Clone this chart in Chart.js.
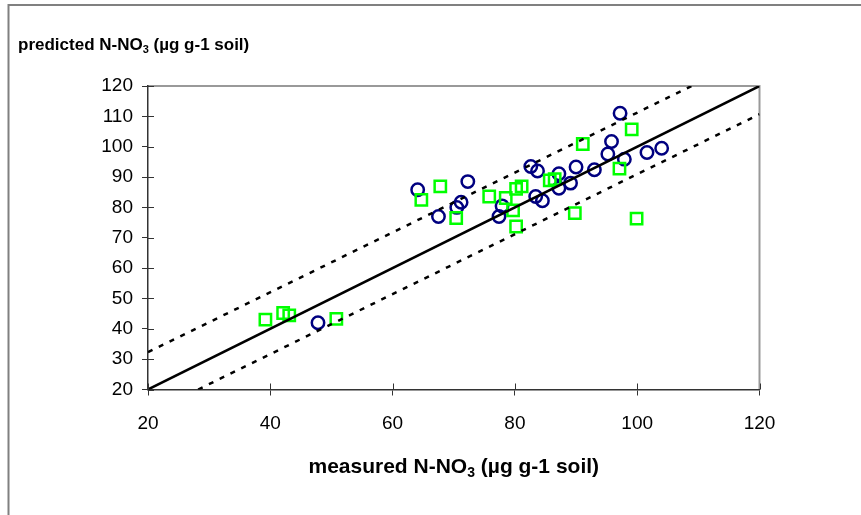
<!DOCTYPE html>
<html>
<head>
<meta charset="utf-8">
<script src="https://cdn.jsdelivr.net/npm/chart.js@4.4.1/dist/chart.umd.min.js"></script>
<style>
  html, body { margin: 0; padding: 0; background: #fff; }
  #wrap { width: 861px; height: 515px; position: relative; }
</style>
</head>
<body>
<div id="wrap"><canvas id="chart"></canvas></div>
<script>
// measured vs predicted N-NO3, two sample groups
const circleX = [97.2, 95.8, 95.2, 97.9, 101.6, 104.0, 93.0, 90.0, 89.1, 87.2, 87.2, 82.6, 83.7, 84.5, 83.4, 77.4, 77.9, 72.3, 71.2, 70.5, 67.5, 64.1, 47.8];
const circleY = [111.0, 101.7, 97.6, 95.9, 98.1, 99.5, 92.4, 93.3, 88.0, 91.1, 86.3, 93.5, 92.0, 82.2, 83.6, 77.0, 80.5, 88.5, 81.7, 80.0, 77.0, 85.8, 42.0];

const squareX = [99.1, 91.1, 97.1, 99.9, 89.8, 86.5, 85.7, 81.1, 80.2, 78.5, 75.8, 79.7, 80.2, 70.4, 67.8, 64.7, 39.2, 42.1, 43.1, 50.8];
const squareY = [105.7, 100.9, 92.8, 76.3, 78.1, 89.3, 88.9, 86.9, 86.1, 83.1, 83.6, 79.0, 73.7, 76.5, 86.9, 82.5, 43.0, 45.2, 44.4, 43.3];

// 1:1 line and the two dashed bounds
const oneToOneX = [20, 120];
const oneToOneY = [20, 120];
const upperX = [20, 108.9];
const upperY = [32.3, 120];
const lowerX = [28.2, 120];
const lowerY = [20, 110.7];

const axisMin = 20;
const axisMax = 120;
const xStep = 20;
const yStep = 10;

const yTitle = ['predicted N-NO', '3', ' (\u00b5g g-1 soil)'];
const xTitle = ['measured N-NO', '3', ' (\u00b5g g-1 soil)'];

const FONT = "'Liberation Sans', Arial, sans-serif";

function toPoints(xs, ys) {
    return xs.map((x, i) => ({ x: x, y: ys[i] }));
}

// text with a subscript middle part
function drawSubText(ctx, parts, x, y, size, align) {
    const mainFont = 'bold ' + size + 'px ' + FONT;
    const subFont = 'bold ' + Math.round(size * 0.66) + 'px ' + FONT;
    ctx.font = mainFont;
    const w0 = ctx.measureText(parts[0]).width;
    const w2 = ctx.measureText(parts[2]).width;
    ctx.font = subFont;
    const w1 = ctx.measureText(parts[1]).width;
    const total = w0 + w1 + w2;
    let left = align === 'center' ? x - total / 2 : x;
    ctx.textAlign = 'left';
    ctx.textBaseline = 'alphabetic';
    ctx.fillStyle = '#000';
    ctx.font = mainFont;
    ctx.fillText(parts[0], left, y);
    ctx.font = subFont;
    ctx.fillText(parts[1], left + w0, y + size * 0.2);
    ctx.font = mainFont;
    ctx.fillText(parts[2], left + w0 + w1, y);
}

const decorPlugin = {
    id: 'decor',
    beforeDraw(chart) {
        const ctx = chart.ctx;
        ctx.save();
        ctx.fillStyle = '#fff';
        ctx.fillRect(0, 0, chart.width, chart.height);
        // outer frame (only left and top visible)
        ctx.strokeStyle = '#808080';
        ctx.lineWidth = 2;
        ctx.beginPath();
        ctx.moveTo(8.5, chart.height);
        ctx.lineTo(8.5, 5);
        ctx.lineTo(chart.width, 5);
        ctx.stroke();
        // plot area top and right
        const a = chart.chartArea;
        ctx.strokeStyle = '#999';
        ctx.lineWidth = 2;
        ctx.beginPath();
        ctx.moveTo(a.left, a.top);
        ctx.lineTo(a.right, a.top);
        ctx.lineTo(a.right, a.bottom);
        ctx.stroke();
        ctx.restore();
    },
    afterDraw(chart) {
        const ctx = chart.ctx;
        const a = chart.chartArea;
        const xs = chart.scales.x;
        const ys = chart.scales.y;
        ctx.save();
        // inner half of the crossing tick marks
        ctx.strokeStyle = '#333';
        ctx.lineWidth = 1;
        ctx.beginPath();
        xs.ticks.forEach(t => {
            const px = Math.round(xs.getPixelForValue(t.value)) + 0.5;
            ctx.moveTo(px, a.bottom);
            ctx.lineTo(px, a.bottom - 6);
        });
        ys.ticks.forEach(t => {
            const py = Math.round(ys.getPixelForValue(t.value)) + 0.5;
            ctx.moveTo(a.left, py);
            ctx.lineTo(a.left + 6, py);
        });
        ctx.stroke();
        drawSubText(ctx, yTitle, 18, 50, 17, 'left');
        drawSubText(ctx, xTitle, (a.left + a.right) / 2, 473, 21, 'center');
        ctx.restore();
    }
};

const ctx = document.getElementById('chart').getContext('2d');
new Chart(ctx, {
    type: 'scatter',
    data: {
        datasets: [
            {
                label: '1:1',
                data: toPoints(oneToOneX, oneToOneY),
                showLine: true,
                borderColor: '#000',
                borderWidth: 2.5,
                pointRadius: 0,
                order: 0
            },
            {
                label: 'upper',
                data: toPoints(upperX, upperY),
                showLine: true,
                borderColor: '#000',
                borderWidth: 2.5,
                borderDash: [5, 7],
                pointRadius: 0,
                order: 0
            },
            {
                label: 'lower',
                data: toPoints(lowerX, lowerY),
                showLine: true,
                borderColor: '#000',
                borderWidth: 2.5,
                borderDash: [5, 7],
                pointRadius: 0,
                order: 0
            },
            {
                label: 'squares',
                data: toPoints(squareX, squareY),
                pointStyle: 'rect',
                pointRadius: 8,
                borderColor: '#00ff00',
                backgroundColor: 'rgba(0,0,0,0)',
                borderWidth: 2.5,
                order: 1
            },
            {
                label: 'circles',
                data: toPoints(circleX, circleY),
                pointStyle: 'circle',
                pointRadius: 6.2,
                borderColor: '#000080',
                backgroundColor: 'rgba(0,0,0,0)',
                borderWidth: 2.5,
                order: 2
            }
        ]
    },
    options: {
        responsive: true,
        maintainAspectRatio: false,
        animation: false,
        layout: { padding: { top: 86, right: 101.5, left: 0, bottom: 0 } },
        plugins: {
            legend: { display: false },
            tooltip: { enabled: false },
            title: { display: false }
        },
        scales: {
            x: {
                type: 'linear',
                min: axisMin,
                max: axisMax,
                afterFit: function(scale) { scale.height = 125.5; },
                ticks: {
                    stepSize: xStep,
                    color: '#000',
                    padding: 17,
                    font: { family: FONT, size: 19 }
                },
                grid: {
                    drawOnChartArea: false,
                    drawTicks: true,
                    tickLength: 6,
                    color: '#333'
                },
                border: { color: '#333', width: 1.5 }
            },
            y: {
                type: 'linear',
                min: axisMin,
                max: axisMax,
                afterFit: function(scale) { scale.width = 148; },
                ticks: {
                    stepSize: yStep,
                    color: '#000',
                    padding: 9,
                    font: { family: FONT, size: 19 }
                },
                grid: {
                    drawOnChartArea: false,
                    drawTicks: true,
                    tickLength: 6,
                    color: '#333'
                },
                border: { color: '#333', width: 1.5 }
            }
        }
    },
    plugins: [decorPlugin]
});
</script>
</body>
</html>
